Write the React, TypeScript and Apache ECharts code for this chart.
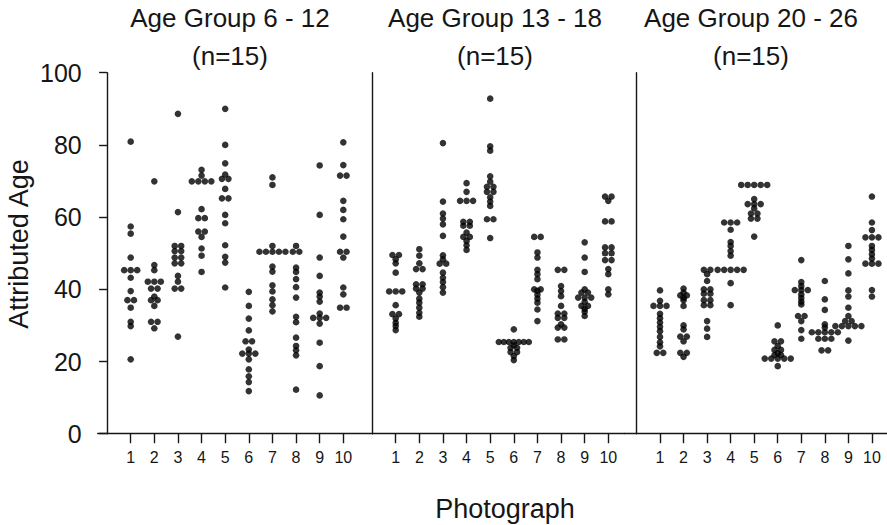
import React, { useEffect, useRef } from "react";
import * as echarts from "echarts";

const PHOTOGRAPHS = [1, 2, 3, 4, 5, 6, 7, 8, 9, 10];
const PANEL_TITLES = ["Age Group 6 - 12", "Age Group 13 - 18", "Age Group 20 - 26"];
const PANEL_SAMPLE = ["(n=15)", "(n=15)", "(n=15)"];
const Y_NAME = "Attributed Age";
const X_NAME = "Photograph";

const AGES_6_12 = [
  [80.9, 57.4, 55.4, 48.8, 45.3, 45.3, 45.3, 43.2, 39.5, 37, 37, 34.9, 31, 29.8, 20.6],
  [69.9, 46.7, 45.3, 42.1, 42.1, 42.1, 40.2, 40.2, 38, 37, 37, 35.4, 31, 31, 29.2],
  [88.6, 61.4, 52, 52, 50.6, 50.6, 48.8, 48.8, 47.2, 47.2, 43.7, 42.1, 40.2, 40.2, 26.9],
  [73.1, 71.5, 69.9, 69.9, 69.9, 69.9, 62.2, 59.7, 59.7, 56, 56, 54.5, 51.3, 49.3, 44.8],
  [90, 80, 74.9, 71.8, 70.6, 70.6, 67.8, 65.2, 65.2, 60.6, 58.3, 52.2, 49, 47.4, 40.5],
  [39.3, 35.4, 31.9, 28.6, 25.6, 25.6, 23.3, 22.2, 22.2, 22.2, 20.6, 17.8, 15.9, 14.3, 11.8],
  [71, 68.9, 52, 50.4, 50.4, 50.4, 50.4, 50.4, 46.3, 44.9, 41.1, 39.4, 37.2, 35.6, 33.9],
  [52, 50.4, 50.4, 46, 44.8, 42.8, 40.6, 37.7, 32.4, 30.9, 26.6, 24.3, 23.1, 21.7, 12.2],
  [74.3, 60.6, 48.8, 43.7, 39.1, 38, 36.6, 33.3, 32.1, 32.1, 32.1, 30.5, 25.2, 18.7, 10.6],
  [80.7, 74.4, 71.5, 71.5, 64.5, 62, 59.4, 54.6, 50.4, 50.4, 48.8, 40.5, 38.6, 34.9, 34.9],
];

const AGES_13_18 = [
  [49.5, 49.5, 48.3, 47.2, 44.6, 39.4, 39.4, 39.4, 35.6, 33.1, 33.1, 31.9, 30.7, 29.8, 28.7],
  [51.1, 49.3, 47.2, 45.6, 45.6, 41.4, 41.4, 40.2, 40.2, 39.1, 37.4, 36.3, 34.9, 33.5, 32.4],
  [80.5, 64.3, 61, 59.6, 58, 54.8, 49.4, 48.3, 47.1, 47.1, 44.6, 43.2, 42, 40.6, 39.1],
  [69.4, 67, 64.5, 64.5, 64.5, 58.7, 58.7, 57.6, 57.6, 55.7, 54.5, 54.5, 53.4, 52.2, 50.9],
  [92.8, 79.6, 78.4, 71.3, 69.8, 68.4, 68.4, 67, 67, 65.5, 64.3, 63.1, 59.4, 59.4, 54.2],
  [28.9, 25.4, 25.4, 25.4, 25.4, 25.4, 25.4, 25.4, 24.5, 23.8, 23.8, 22.6, 22.6, 21.5, 20.4],
  [54.5, 54.5, 50.2, 48.8, 45.4, 44.2, 42.8, 40, 40, 39.6, 38.5, 37.4, 36.3, 34.4, 31.2],
  [45.4, 45.4, 40.9, 39.5, 38.1, 35.4, 33.3, 33.3, 32.1, 32.1, 30.3, 29.4, 29.4, 26.1, 26.1],
  [53, 48.8, 44.8, 40, 39.1, 39.1, 37.7, 37.7, 37.7, 36.5, 35.4, 35.4, 34.6, 33.8, 32.6],
  [65.7, 65.7, 64.5, 58.8, 58.8, 51.6, 51.6, 50, 50, 48.1, 48.1, 45.6, 44.2, 40, 38.6],
];

const AGES_20_26 = [
  [39.7, 36.8, 35.4, 35.4, 35.4, 33.2, 32, 30.8, 29.6, 28.4, 26.8, 25.3, 24.2, 22.4, 22.4],
  [40.2, 39.1, 38.3, 38.3, 37.6, 37, 35.4, 30, 28.9, 26.9, 26.9, 25.6, 22.4, 22.4, 21.3],
  [45.4, 45.4, 44.2, 42.3, 40, 40, 38.8, 38.8, 37, 37, 35.6, 35.6, 31.2, 29.1, 26.8],
  [58.5, 58.5, 58.5, 56.5, 53.1, 52, 50.6, 49.3, 45.4, 45.4, 45.4, 45.4, 45.4, 41.7, 35.6],
  [68.9, 68.9, 68.9, 68.9, 68.9, 65, 63.6, 63.6, 63.6, 62.4, 61, 61, 59.6, 59.6, 54.6],
  [30, 25.6, 25.6, 24.3, 23.2, 23.2, 22.3, 21.8, 21.8, 20.8, 20.8, 20.8, 20.8, 20.8, 18.7],
  [48.1, 42, 40.9, 39.8, 39.8, 39.8, 38.6, 37.6, 36.6, 35.8, 32.6, 32.6, 31.2, 28.7, 26.3],
  [42.3, 37.2, 34.3, 30.3, 29.4, 28.1, 28.1, 28.1, 28.1, 28.1, 26.3, 26.3, 26.3, 23.1, 23.1],
  [52, 48.3, 44.4, 39.7, 38, 34.9, 32.6, 31.2, 31.2, 29.8, 29.8, 29.8, 29.8, 29.8, 25.8],
  [65.7, 58.5, 56.4, 54.4, 54.4, 54.4, 52, 50.9, 49.7, 48.5, 47.1, 47.1, 47.1, 39.8, 38],
];

const PANEL_DATA = [AGES_6_12, AGES_13_18, AGES_20_26];

const FONT = "'Liberation Sans', Arial, Helvetica, sans-serif";
const INK = "#161616";

// Symmetric rows of dots for equal values (dot-plot swarm), offsets in data units.
function swarm(values: number[], cat: number, pxPerUnit: number): number[][] {
  const counts = new Map<number, number>();
  values.forEach((v) => counts.set(v, (counts.get(v) || 0) + 1));
  const pts: number[][] = [];
  counts.forEach((n, v) => {
    const stepPx = n > 1 ? Math.min(6.5, 30 / (n - 1)) : 0;
    const step = stepPx / pxPerUnit;
    for (let i = 0; i < n; i++) pts.push([cat + (i - (n - 1) / 2) * step, v]);
  });
  return pts;
}

export default function App() {
  const ref = useRef<HTMLDivElement>(null);

  useEffect(() => {
    document.body.style.margin = "0";
    if (!ref.current) return;
    const chart = echarts.init(ref.current, undefined, { renderer: "svg" });

    const top = 72.7;
    const height = 361;
    const panels = [
      { left: 97.7, width: 275, min: -0.397, max: 11.244, titleX: 230 },
      { left: 372.7, width: 252, min: 0.026, max: 10.694, titleX: 495 },
      { left: 624.7, width: 262.3, min: -0.5, max: 10.64, titleX: 751 },
    ];

    const lineStyle = { color: INK, width: 1.4 };

    const grid = panels.map((p) => ({ left: p.left, top, width: p.width, height }));

    const xAxis = panels.map((p, k) => ({
      gridIndex: k,
      type: "value",
      min: p.min,
      max: p.max,
      axisLine: { show: true, onZero: false, lineStyle },
      axisTick: { show: true, customValues: PHOTOGRAPHS, length: 9.5, lineStyle },
      axisLabel: {
        show: true,
        customValues: PHOTOGRAPHS,
        fontSize: 16,
        fontFamily: FONT,
        color: INK,
        margin: 16,
      },
      splitLine: { show: false },
    }));

    const yAxis = panels.map((p, k) => ({
      gridIndex: k,
      type: "value",
      min: 0,
      max: 100,
      interval: 20,
      axisLine: { show: true, lineStyle },
      axisTick: { show: k === 0, length: 8, lineStyle },
      axisLabel: {
        show: k === 0,
        fontSize: 25,
        fontFamily: FONT,
        color: INK,
        margin: 16,
      },
      splitLine: { show: false },
    }));

    const series = panels.map((p, k) => {
      const pxPerUnit = p.width / (p.max - p.min);
      const data: number[][] = [];
      PANEL_DATA[k].forEach((vals, i) => {
        swarm(vals, PHOTOGRAPHS[i], pxPerUnit).forEach((pt) => data.push(pt));
      });
      return {
        type: "scatter",
        xAxisIndex: k,
        yAxisIndex: k,
        symbol: "circle",
        symbolSize: 6.6,
        itemStyle: { color: "#000" },
        data,
      };
    });

    const graphic: any[] = [];
    panels.forEach((p, k) => {
      graphic.push({
        type: "text",
        x: p.titleX,
        y: 18,
        style: {
          text: PANEL_TITLES[k],
          font: `26px ${FONT}`,
          fill: INK,
          textAlign: "center",
          textVerticalAlign: "middle",
        },
      });
      graphic.push({
        type: "text",
        x: p.titleX,
        y: 56,
        style: {
          text: PANEL_SAMPLE[k],
          font: `26px ${FONT}`,
          fill: INK,
          textAlign: "center",
          textVerticalAlign: "middle",
        },
      });
    });
    graphic.push({
      type: "text",
      x: 19,
      y: 244,
      rotation: Math.PI / 2,
      style: {
        text: Y_NAME,
        font: `27px ${FONT}`,
        fill: INK,
        textAlign: "center",
        textVerticalAlign: "middle",
      },
    });
    graphic.push({
      type: "text",
      x: 505,
      y: 509,
      style: {
        text: X_NAME,
        font: `27px ${FONT}`,
        fill: INK,
        textAlign: "center",
        textVerticalAlign: "middle",
      },
    });

    chart.setOption({
      animation: false,
      backgroundColor: "#ffffff",
      grid,
      xAxis,
      yAxis,
      series,
      graphic,
    });

    return () => chart.dispose();
  }, []);

  return <div ref={ref} style={{ width: 887, height: 525 }} />;
}
